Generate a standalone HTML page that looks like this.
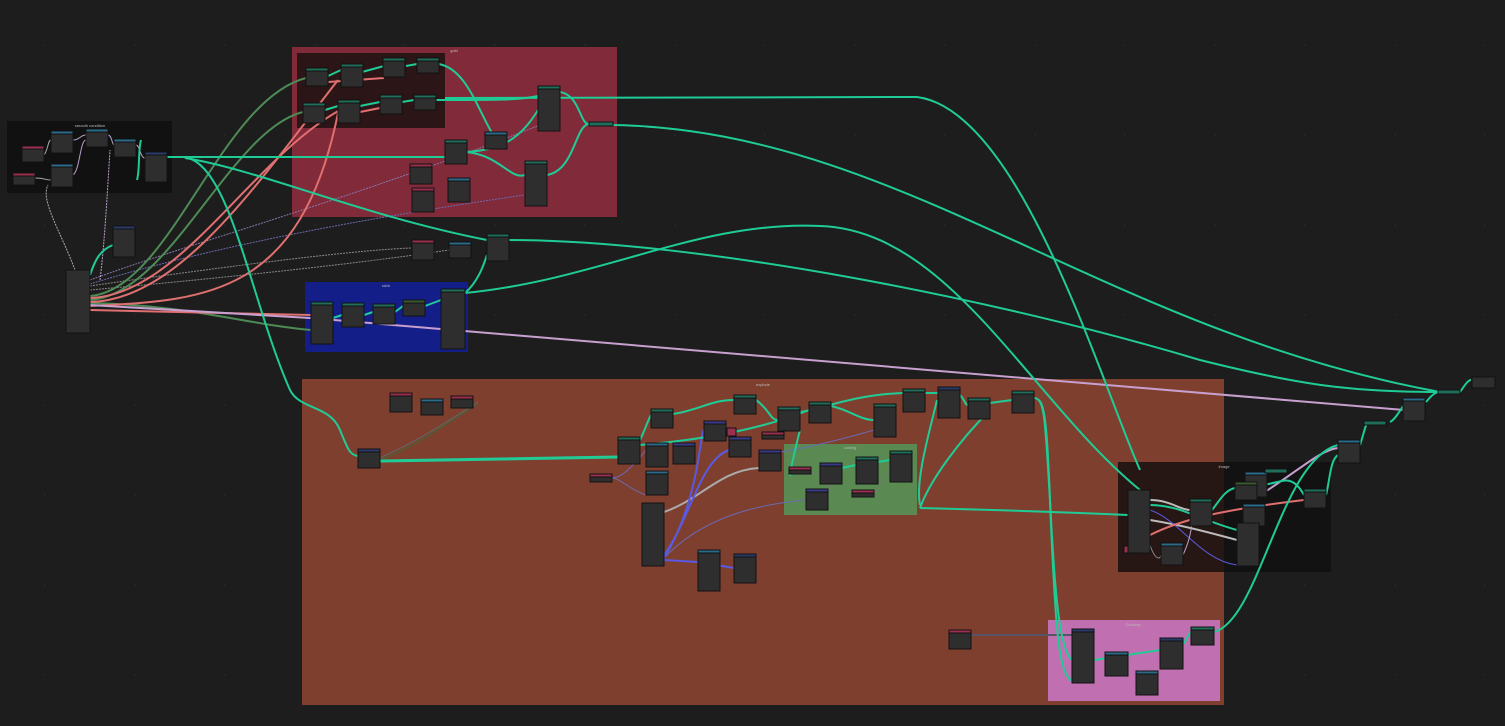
<!DOCTYPE html>
<html><head><meta charset="utf-8"><style>
html,body{margin:0;padding:0;background:#1d1d1d;width:1505px;height:726px;overflow:hidden}
svg{display:block}
text{font-family:"Liberation Sans",sans-serif;fill:#bbb}
</style></head><body>
<svg width="1505" height="726" viewBox="0 0 1505 726" xmlns="http://www.w3.org/2000/svg">
<defs>
<pattern id="dots" width="90" height="90" patternUnits="userSpaceOnUse"><circle cx="45" cy="45" r="0.8" fill="#2a2a2a"/></pattern>
</defs>
<rect width="1505" height="726" fill="#1d1d1d"/>
<rect width="1505" height="726" fill="url(#dots)"/>

<!-- frames -->
<rect x="7" y="121" width="165" height="72" fill="#111"/>
<text x="90" y="127" font-size="4" text-anchor="middle" fill="#999">smooth condition</text>
<rect x="292" y="47" width="325" height="170" fill="#812a3a"/>
<text x="454" y="52" font-size="4" text-anchor="middle" fill="#c99">gold</text>
<rect x="297" y="53" width="148" height="75" fill="#2b1517"/>
<rect x="305" y="282" width="163" height="70" fill="#141e88"/>
<text x="386" y="287" font-size="4" text-anchor="middle" fill="#aab">sdvk</text>
<rect x="302" y="379" width="922" height="326" fill="#7f3f2e"/>
<text x="763" y="386" font-size="4" text-anchor="middle" fill="#c99">explode</text>
<rect x="784" y="444" width="133" height="71" fill="#5a8a52"/>
<text x="850" y="449" font-size="4" text-anchor="middle" fill="#cdc">cooling</text>
<rect x="1048" y="620" width="172" height="81" fill="#c070b0"/>
<text x="1133" y="626" font-size="4" text-anchor="middle" fill="#ecd">Coloring</text>
<rect x="1118" y="462" width="213" height="110" fill="#121212"/>
<rect x="1118" y="462" width="106" height="110" fill="#261614"/>
<text x="1224" y="468" font-size="4" text-anchor="middle" fill="#999">Image</text>

<!-- thin wires -->
<g fill="none" stroke-width="1">
<path d="M90,286 C200,270 350,250 412,248" stroke="#888" stroke-dasharray="2,1"/>
<path d="M90,290 C200,280 350,265 449,250" stroke="#888" stroke-dasharray="2,1"/>
<path d="M90,280 C200,240 350,200 540,125" stroke="#8877aa" stroke-dasharray="2,1"/>
<path d="M90,284 C200,250 350,220 525,195" stroke="#6a6ab0" stroke-dasharray="2,1"/>
<path d="M75,270 C60,230 40,200 48,185" stroke="#aaa" stroke-dasharray="2,1"/>
<path d="M100,280 C105,240 108,180 110,150" stroke="#b9a0c8" stroke-dasharray="2,1"/>
<path d="M35,178 C45,178 45,180 51,180" stroke="#aaa"/>
<path d="M44,155 C48,150 48,140 51,140" stroke="#aaa"/>
<path d="M73,140 C80,140 80,135 86,135" stroke="#b9a0c8"/>
<path d="M73,175 C80,170 80,140 86,140" stroke="#b9a0c8"/>
<path d="M108,135 C112,135 112,145 114,145" stroke="#b9a0c8"/>
<path d="M136,145 C140,145 140,158 145,158" stroke="#b9a0c8"/>
<path d="M380,458 C420,440 450,420 478,402" stroke="#666"/>
<path d="M380,460 C420,445 450,420 478,404" stroke="#3a6a3a"/>
<path d="M612,478 C620,478 630,470 646,450" stroke="#6a6ab0"/>
<path d="M612,478 C620,478 630,490 646,495" stroke="#6a6ab0"/>
<path d="M664,558 C700,520 750,505 806,500" stroke="#6a6ab0"/>
<path d="M664,512 C700,500 720,470 759,468" stroke="#aaa" stroke-width="2"/>
<path d="M664,555 C690,520 700,460 729,450" stroke="#5a5ae0" stroke-width="2"/>
<path d="M664,558 C700,500 700,430 704,430" stroke="#5a5ae0" stroke-width="2"/>
<path d="M664,560 L698,562 L734,568" stroke="#5a5ae0" stroke-width="2"/>
<path d="M972,635 L1072,635" stroke="#556" stroke-width="2"/>
<path d="M760,455 C800,450 840,440 874,430" stroke="#6a6ab0"/>
<path d="M812,473 C830,475 830,490 828,492" stroke="#777"/>
<path d="M874,494 C880,490 885,470 890,470" stroke="#777"/>
<path d="M1150,500 C1170,500 1180,510 1190,510" stroke="#bbb" stroke-width="2"/>
<path d="M1150,520 C1180,525 1200,530 1237,540" stroke="#bbb" stroke-width="2"/>
<path d="M1150,510 C1180,520 1200,560 1237,565" stroke="#5a5ae0"/>
<path d="M1150,545 C1155,560 1160,560 1161,555" stroke="#888"/>
<path d="M1183,555 C1190,540 1195,520 1190,505" stroke="#b9a0c8"/>
</g>

<!-- green and red wires -->
<g fill="none" stroke-width="2">
<path d="M90,296 C170,290 220,100 306,78" stroke="#4d8a55"/>
<path d="M90,300 C170,295 230,130 303,112" stroke="#4d8a55"/>
<path d="M90,303 C190,305 250,325 311,330" stroke="#4d8a55"/>
<path d="M90,298 C180,295 250,160 340,110" stroke="#e07070"/>
<path d="M90,302 C180,300 260,180 338,80" stroke="#e07070"/>
<path d="M90,306 C200,300 300,300 338,113" stroke="#e07070"/>
<path d="M90,310 L311,315" stroke="#e07070"/>
<path d="M328,82 L384,78" stroke="#e07070"/>
<path d="M360,112 L380,108" stroke="#e07070"/>
<path d="M1150,535 C1180,520 1220,510 1304,500" stroke="#e07070"/>
<path d="M90,305 L310,318 L1404,410" stroke="#c8a0d0"/>
<path d="M1260,495 C1300,470 1320,450 1338,448" stroke="#c8a0d0"/>
</g>

<!-- teal wires -->
<g fill="none" stroke="#1fcc96" stroke-width="2">
<path d="M167,157 L465,157"/>
<path d="M183,157 C230,160 250,300 290,390 C300,410 330,405 340,430 C348,450 350,455 358,456"/>
<path d="M185,158 C260,170 360,215 487,240"/>
<path d="M137,180 C140,170 138,150 141,140"/>
<path d="M90,275 C95,260 100,250 113,245"/>
<path d="M445,98 L917,97 C1020,110 1100,380 1140,470"/>
<path d="M328,76 L341,70"/><path d="M362,72 L384,66"/><path d="M406,66 L417,64"/>
<path d="M325,110 L338,106"/><path d="M360,106 L380,102"/><path d="M402,102 L414,100"/>
<path d="M439,64 C470,70 480,120 500,145"/>
<path d="M436,100 C500,100 520,100 538,96"/>
<path d="M560,92 C580,95 580,125 589,124"/>
<path d="M547,175 C575,170 575,125 589,124"/>
<path d="M466,152 C500,150 520,140 538,110"/>
<path d="M466,152 C500,155 510,180 525,175"/>
<path d="M613,125 C900,130 1100,330 1440,392"/>
<path d="M508,240 C700,240 1000,300 1200,360 C1300,385 1350,392 1440,392"/>
<path d="M465,293 C600,280 700,220 820,226 C950,230 1030,400 1140,490"/>
<path d="M333,318 L342,315"/><path d="M364,315 L373,312"/><path d="M395,312 L403,306"/><path d="M425,306 L441,300"/>
<path d="M465,293 C480,280 485,260 487,255"/>
<path d="M380,461 L618,457" stroke-width="3"/>
<path d="M640,440 C645,430 648,420 651,415"/>
<path d="M673,414 C700,410 710,400 734,400"/>
<path d="M640,445 C700,440 760,430 809,410"/>
<path d="M756,400 C770,410 770,420 778,420"/>
<path d="M800,412 C820,410 850,395 903,393"/>
<path d="M831,406 C850,410 860,420 874,420"/>
<path d="M925,393 L938,393"/>
<path d="M960,395 C965,400 965,405 968,405"/>
<path d="M990,403 L1012,400"/>
<path d="M937,400 C930,430 915,480 920,505"/>
<path d="M990,410 C960,440 930,480 920,508"/>
<path d="M920,508 C1000,510 1060,512 1128,515"/>
<path d="M1034,398 C1045,398 1045,420 1050,500 C1055,600 1060,650 1072,660"/>
<path d="M1038,400 C1050,402 1048,500 1055,600 C1058,650 1062,680 1075,682"/>
<path d="M800,430 C795,450 790,470 790,476"/>
<path d="M842,468 L856,465"/><path d="M878,462 L890,460"/>
<path d="M1094,660 L1160,650"/>
<path d="M1182,645 C1188,640 1188,632 1192,632"/>
<path d="M1214,632 C1260,620 1280,460 1338,445"/>
<path d="M1360,445 C1365,430 1365,425 1368,422"/>
<path d="M1390,422 C1395,420 1400,410 1404,405"/>
<path d="M1426,402 C1432,395 1435,392 1440,392"/>
<path d="M1460,392 C1465,385 1468,380 1471,380"/>
<path d="M1212,510 C1220,500 1225,490 1235,488"/>
<path d="M1150,505 C1180,505 1200,520 1237,530"/>
<path d="M1259,485 C1280,485 1290,470 1304,495"/>
<path d="M1326,495 C1330,480 1330,460 1338,455"/>
</g>

<!-- nodes -->
<g stroke="#111" stroke-width="1">
<!-- smooth -->
<rect x="22" y="146" width="22" height="16" fill="#2e2e2e"/><rect x="22" y="146" width="22" height="3" fill="#9a2f4e"/>
<rect x="13" y="173" width="22" height="12" fill="#2e2e2e"/><rect x="13" y="173" width="22" height="3" fill="#9a2f4e"/>
<rect x="51" y="131" width="22" height="22" fill="#2e2e2e"/><rect x="51" y="131" width="22" height="3" fill="#2a6a8a"/>
<rect x="51" y="164" width="22" height="23" fill="#2e2e2e"/><rect x="51" y="164" width="22" height="3" fill="#2a6a8a"/>
<rect x="86" y="129" width="22" height="18" fill="#2e2e2e"/><rect x="86" y="129" width="22" height="3" fill="#2a6a8a"/>
<rect x="114" y="139" width="22" height="18" fill="#2e2e2e"/><rect x="114" y="139" width="22" height="3" fill="#2a6a8a"/>
<rect x="145" y="152" width="22" height="30" fill="#2e2e2e"/><rect x="145" y="152" width="22" height="3" fill="#2a3a6a"/>
<rect x="113" y="226" width="22" height="31" fill="#2e2e2e"/><rect x="113" y="226" width="22" height="3" fill="#2a3a6a"/>
<rect x="66" y="270" width="24" height="63" fill="#2e2e2e"/>
<!-- gold -->
<rect x="306" y="68" width="22" height="18" fill="#2e2e2e"/><rect x="306" y="68" width="22" height="3" fill="#1e6e5a"/>
<rect x="341" y="64" width="22" height="23" fill="#2e2e2e"/><rect x="341" y="64" width="22" height="3" fill="#1e6e5a"/>
<rect x="383" y="58" width="22" height="19" fill="#2e2e2e"/><rect x="383" y="58" width="22" height="3" fill="#1e6e5a"/>
<rect x="417" y="58" width="22" height="15" fill="#2e2e2e"/><rect x="417" y="58" width="22" height="3" fill="#1e6e5a"/>
<rect x="303" y="103" width="22" height="20" fill="#2e2e2e"/><rect x="303" y="103" width="22" height="3" fill="#1e6e5a"/>
<rect x="338" y="100" width="22" height="23" fill="#2e2e2e"/><rect x="338" y="100" width="22" height="3" fill="#1e6e5a"/>
<rect x="380" y="95" width="22" height="19" fill="#2e2e2e"/><rect x="380" y="95" width="22" height="3" fill="#1e6e5a"/>
<rect x="414" y="95" width="22" height="15" fill="#2e2e2e"/><rect x="414" y="95" width="22" height="3" fill="#1e6e5a"/>
<rect x="538" y="86" width="22" height="45" fill="#2e2e2e"/><rect x="538" y="86" width="22" height="3" fill="#1e6e5a"/>
<rect x="589" y="122" width="24" height="4" fill="#1e6e5a"/>
<rect x="485" y="132" width="22" height="17" fill="#2e2e2e"/><rect x="485" y="132" width="22" height="3" fill="#2a6a8a"/>
<rect x="445" y="140" width="22" height="24" fill="#2e2e2e"/><rect x="445" y="140" width="22" height="3" fill="#1e6e5a"/>
<rect x="410" y="164" width="22" height="20" fill="#2e2e2e"/><rect x="410" y="164" width="22" height="3" fill="#9a2f4e"/>
<rect x="448" y="178" width="22" height="24" fill="#2e2e2e"/><rect x="448" y="178" width="22" height="3" fill="#2a6a8a"/>
<rect x="412" y="188" width="22" height="24" fill="#2e2e2e"/><rect x="412" y="188" width="22" height="3" fill="#9a2f4e"/>
<rect x="525" y="161" width="22" height="45" fill="#2e2e2e"/><rect x="525" y="161" width="22" height="3" fill="#1e6e5a"/>
<!-- mid -->
<rect x="412" y="240" width="22" height="20" fill="#2e2e2e"/><rect x="412" y="240" width="22" height="3" fill="#9a2f4e"/>
<rect x="449" y="242" width="22" height="16" fill="#2e2e2e"/><rect x="449" y="242" width="22" height="3" fill="#2a6a8a"/>
<rect x="487" y="234" width="22" height="27" fill="#2e2e2e"/><rect x="487" y="234" width="22" height="3" fill="#1e6e5a"/>
<!-- blue frame -->
<rect x="311" y="302" width="22" height="42" fill="#2e2e2e"/><rect x="311" y="302" width="22" height="3" fill="#1e6e5a"/>
<rect x="342" y="303" width="22" height="24" fill="#2e2e2e"/><rect x="342" y="303" width="22" height="3" fill="#1e6e5a"/>
<rect x="373" y="304" width="22" height="20" fill="#2e2e2e"/><rect x="373" y="304" width="22" height="3" fill="#1e6e5a"/>
<rect x="403" y="300" width="22" height="16" fill="#2e2e2e"/><rect x="403" y="300" width="22" height="3" fill="#3a5a30"/>
<rect x="441" y="289" width="24" height="60" fill="#2e2e2e"/><rect x="441" y="289" width="24" height="3" fill="#1e6e5a"/>
<!-- explode -->
<rect x="390" y="393" width="22" height="19" fill="#2e2e2e"/><rect x="390" y="393" width="22" height="3" fill="#9a2f4e"/>
<rect x="421" y="399" width="22" height="16" fill="#2e2e2e"/><rect x="421" y="399" width="22" height="3" fill="#2a6a8a"/>
<rect x="451" y="396" width="22" height="12" fill="#2e2e2e"/><rect x="451" y="396" width="22" height="3" fill="#9a2f4e"/>
<rect x="358" y="449" width="22" height="19" fill="#2e2e2e"/><rect x="358" y="449" width="22" height="3" fill="#2a3a6a"/>
<rect x="590" y="474" width="22" height="8" fill="#2e2e2e"/><rect x="590" y="474" width="22" height="3" fill="#9a2f4e"/>
<rect x="618" y="437" width="22" height="27" fill="#2e2e2e"/><rect x="618" y="437" width="22" height="3" fill="#1e6e5a"/>
<rect x="646" y="443" width="22" height="24" fill="#2e2e2e"/><rect x="646" y="443" width="22" height="3" fill="#2a6a8a"/>
<rect x="651" y="409" width="22" height="19" fill="#2e2e2e"/><rect x="651" y="409" width="22" height="3" fill="#1e6e5a"/>
<rect x="673" y="443" width="22" height="21" fill="#2e2e2e"/><rect x="673" y="443" width="22" height="3" fill="#3a3a8a"/>
<rect x="646" y="471" width="22" height="24" fill="#2e2e2e"/><rect x="646" y="471" width="22" height="3" fill="#2a6a8a"/>
<rect x="642" y="503" width="22" height="63" fill="#2e2e2e"/>
<rect x="698" y="550" width="22" height="41" fill="#2e2e2e"/><rect x="698" y="550" width="22" height="3" fill="#2a6a8a"/>
<rect x="734" y="554" width="22" height="29" fill="#2e2e2e"/><rect x="734" y="554" width="22" height="3" fill="#2a3a6a"/>
<rect x="704" y="421" width="22" height="20" fill="#2e2e2e"/><rect x="704" y="421" width="22" height="3" fill="#3a3a8a"/>
<rect x="727" y="428" width="9" height="8" fill="#9a2f4e"/>
<rect x="729" y="437" width="22" height="20" fill="#2e2e2e"/><rect x="729" y="437" width="22" height="3" fill="#3a3a8a"/>
<rect x="762" y="432" width="22" height="7" fill="#2e2e2e"/><rect x="762" y="432" width="22" height="3" fill="#9a2f4e"/>
<rect x="734" y="395" width="22" height="19" fill="#2e2e2e"/><rect x="734" y="395" width="22" height="3" fill="#1e6e5a"/>
<rect x="759" y="450" width="22" height="21" fill="#2e2e2e"/><rect x="759" y="450" width="22" height="3" fill="#3a3a8a"/>
<rect x="778" y="407" width="22" height="24" fill="#2e2e2e"/><rect x="778" y="407" width="22" height="3" fill="#1e6e5a"/>
<rect x="809" y="402" width="22" height="21" fill="#2e2e2e"/><rect x="809" y="402" width="22" height="3" fill="#1e6e5a"/>
<rect x="789" y="467" width="22" height="7" fill="#2e2e2e"/><rect x="789" y="467" width="22" height="3" fill="#9a2f4e"/>
<rect x="820" y="463" width="22" height="21" fill="#2e2e2e"/><rect x="820" y="463" width="22" height="3" fill="#3a3a8a"/>
<rect x="856" y="457" width="22" height="27" fill="#2e2e2e"/><rect x="856" y="457" width="22" height="3" fill="#1e6e5a"/>
<rect x="852" y="490" width="22" height="7" fill="#2e2e2e"/><rect x="852" y="490" width="22" height="3" fill="#9a2f4e"/>
<rect x="806" y="489" width="22" height="21" fill="#2e2e2e"/><rect x="806" y="489" width="22" height="3" fill="#3a3a8a"/>
<rect x="890" y="451" width="22" height="31" fill="#2e2e2e"/><rect x="890" y="451" width="22" height="3" fill="#1e6e5a"/>
<rect x="874" y="404" width="22" height="33" fill="#2e2e2e"/><rect x="874" y="404" width="22" height="3" fill="#1e6e5a"/>
<rect x="903" y="389" width="22" height="23" fill="#2e2e2e"/><rect x="903" y="389" width="22" height="3" fill="#1e6e5a"/>
<rect x="938" y="387" width="22" height="31" fill="#2e2e2e"/><rect x="938" y="387" width="22" height="3" fill="#2a3a6a"/>
<rect x="968" y="398" width="22" height="21" fill="#2e2e2e"/><rect x="968" y="398" width="22" height="3" fill="#1e6e5a"/>
<rect x="1012" y="391" width="22" height="22" fill="#2e2e2e"/><rect x="1012" y="391" width="22" height="3" fill="#1e6e5a"/>
<rect x="949" y="630" width="22" height="19" fill="#2e2e2e"/><rect x="949" y="630" width="22" height="3" fill="#9a2f4e"/>
<!-- pink -->
<rect x="1072" y="629" width="22" height="54" fill="#2e2e2e"/><rect x="1072" y="629" width="22" height="3" fill="#2a3a6a"/>
<rect x="1105" y="652" width="23" height="24" fill="#2e2e2e"/><rect x="1105" y="652" width="23" height="3" fill="#2a6a8a"/>
<rect x="1136" y="671" width="22" height="24" fill="#2e2e2e"/><rect x="1136" y="671" width="22" height="3" fill="#2a6a8a"/>
<rect x="1160" y="638" width="23" height="31" fill="#2e2e2e"/><rect x="1160" y="638" width="23" height="3" fill="#2a3a6a"/>
<rect x="1191" y="627" width="23" height="18" fill="#2e2e2e"/><rect x="1191" y="627" width="23" height="3" fill="#1e6e5a"/>
<!-- dark frame -->
<rect x="1128" y="490" width="22" height="63" fill="#2e2e2e"/>
<rect x="1124" y="546" width="4" height="7" fill="#9a2f4e"/>
<rect x="1161" y="543" width="22" height="22" fill="#2e2e2e"/><rect x="1161" y="543" width="22" height="3" fill="#2a6a8a"/>
<rect x="1190" y="499" width="22" height="27" fill="#2e2e2e"/><rect x="1190" y="499" width="22" height="3" fill="#1e6e5a"/>
<rect x="1245" y="472" width="22" height="25" fill="#2e2e2e"/><rect x="1245" y="472" width="22" height="3" fill="#2a6a8a"/>
<rect x="1235" y="482" width="22" height="18" fill="#2e2e2e"/><rect x="1235" y="482" width="22" height="3" fill="#3a5a30"/>
<rect x="1243" y="504" width="22" height="22" fill="#2e2e2e"/><rect x="1243" y="504" width="22" height="3" fill="#2a6a8a"/>
<rect x="1237" y="523" width="22" height="43" fill="#2e2e2e"/>
<rect x="1304" y="489" width="22" height="19" fill="#2e2e2e"/><rect x="1304" y="489" width="22" height="3" fill="#1e6e5a"/>
<rect x="1265" y="469" width="22" height="4" fill="#1e6e5a"/>
<!-- right -->
<rect x="1338" y="440" width="22" height="23" fill="#2e2e2e"/><rect x="1338" y="440" width="22" height="3" fill="#2a6a8a"/>
<rect x="1364" y="421" width="22" height="4" fill="#1e6e5a"/>
<rect x="1403" y="398" width="22" height="23" fill="#2e2e2e"/><rect x="1403" y="398" width="22" height="3" fill="#2a6a8a"/>
<rect x="1438" y="390" width="22" height="4" fill="#1e6e5a"/>
<rect x="1472" y="377" width="23" height="11" fill="#2e2e2e"/>
</g>
</svg>
</body></html>
